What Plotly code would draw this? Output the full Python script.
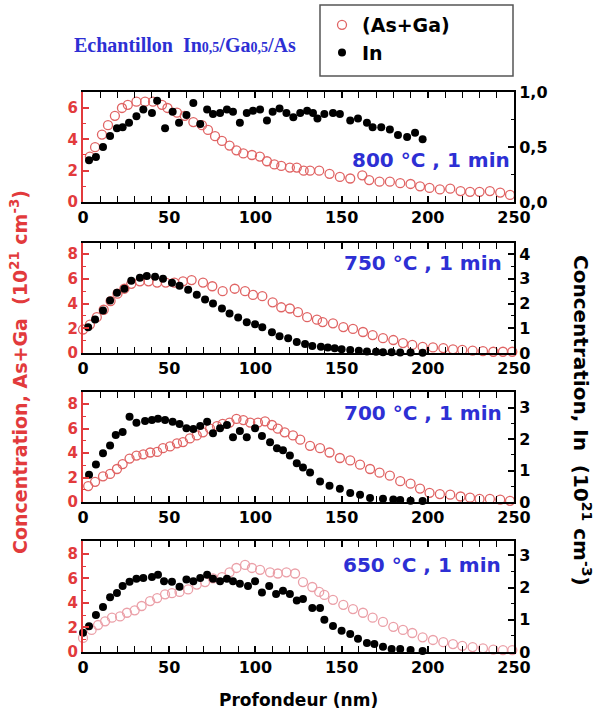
import plotly.graph_objects as go

# ---------------- data ----------------
# 800 °C
x_asga_800 = [-1.7, 4, 7, 11, 14.5, 18.5, 22.6, 26, 31, 36, 40.6, 45.8, 49, 54.5, 59, 64, 69, 72.5, 76.6, 80.6,
              85, 89, 93, 98, 102.6, 106.7, 111, 115, 120, 124, 128, 131.7, 137, 143, 149, 155, 162, 166, 172,
              178, 184, 190, 195.5, 201, 207, 213, 219, 224.5, 230, 236, 242, 247.7, 252]
asga_800 = [2.2, 2.9, 3.5, 4.3, 4.9, 5.5, 6.0, 6.2, 6.4, 6.4, 6.4, 6.2, 6.0, 5.7, 5.5, 5.1, 4.9, 4.6, 4.2, 3.9,
            3.6, 3.3, 3.1, 3.0, 2.9, 2.6, 2.4, 2.3, 2.2, 2.2, 2.0, 2.0, 2.0, 1.8, 1.6, 1.5, 1.7, 1.4, 1.3,
            1.3, 1.2, 1.15, 1.0, 0.9, 0.8, 0.85, 0.7, 0.65, 0.65, 0.7, 0.6, 0.45, 0.35]
x_in_800 = [-4.6, -0.6, 3.5, 7.5, 11.6, 15.7, 19.7, 23, 26.7, 31, 35, 40, 43, 47.6, 52, 55.7, 60, 64, 68, 72,
            75.4, 79.5, 83.5, 87, 91, 95, 98.6, 102.7, 106.7, 110, 114, 118, 122, 126, 130, 133.4, 136, 140,
            145, 149, 155, 159.5, 164.7, 168, 173, 178, 182.7, 188, 192.6, 197]
in_800 = [0.15, 0.31, 0.38, 0.41, 0.50, 0.60, 0.67, 0.68, 0.72, 0.78, 0.84, 0.81, 0.92, 0.67, 0.82, 0.72, 0.79,
          0.90, 0.71, 0.84, 0.80, 0.81, 0.84, 0.82, 0.72, 0.81, 0.83, 0.84, 0.74, 0.82, 0.85, 0.81, 0.77, 0.81,
          0.83, 0.81, 0.76, 0.80, 0.81, 0.80, 0.74, 0.76, 0.72, 0.68, 0.68, 0.66, 0.61, 0.59, 0.63, 0.57]

# 750 °C
x_asga_750 = [0, 4, 8, 12, 16, 20, 24, 28, 33, 38, 43, 48, 53, 58, 63, 69.6, 75, 81, 88, 94, 98.6, 104, 110,
              115, 120, 124.7, 130, 135.7, 139, 145, 151, 156.6, 162.4, 168, 174, 180, 185.6, 191, 197, 203,
              209, 214.6, 220, 226, 232, 238, 243.6, 249]
asga_750 = [1.9, 2.3, 2.9, 3.5, 4.2, 4.8, 5.2, 5.6, 5.8, 5.8, 5.7, 5.7, 5.7, 5.8, 5.9, 5.7, 5.4, 5.0, 5.2, 5.0,
            4.7, 4.6, 4.1, 3.7, 3.6, 3.3, 2.9, 2.7, 2.5, 2.4, 2.1, 1.95, 1.7, 1.45, 1.2, 1.05, 0.8, 0.65, 0.5,
            0.45, 0.4, 0.3, 0.25, 0.2, 0.15, 0.1, 0.1, 0.1]
x_in_750 = [-5.8, -0.6, 3, 7, 11.6, 15.7, 19.7, 24, 28, 33, 37, 41.8, 46.4, 51.6, 56, 61, 66, 70.8, 75.4, 80.6,
            85, 90, 95, 99.8, 104, 109.6, 114, 119, 124, 128.8, 133, 138, 142, 146, 150, 155, 160, 164.7, 170,
            174, 179, 184, 190, 197]
in_750 = [0.44, 0.84, 1.04, 1.36, 1.72, 2.12, 2.44, 2.6, 2.92, 3.04, 3.12, 3.08, 3.0, 2.84, 2.72, 2.56, 2.36,
          2.16, 2.0, 1.8, 1.6, 1.44, 1.24, 1.16, 1.04, 0.84, 0.68, 0.6, 0.44, 0.36, 0.28, 0.25, 0.22, 0.19,
          0.15, 0.12, 0.09, 0.06, 0.05, 0.03, 0.03, 0.02, 0.02, 0.01]

# 700 °C
x_asga_700 = [-0.6, 3, 7, 11.6, 15.7, 19.7, 23, 27, 31, 35, 39, 43, 46.4, 50.5, 54.5, 58, 62, 66, 69.6, 73.7,
              77.7, 81, 85, 89, 93, 97, 101.5, 105.6, 109.6, 113, 117, 121.8, 126, 131.7, 137.5, 143, 149,
              155, 160.7, 166.5, 172, 178, 184, 190, 195.5, 201, 207, 213, 219, 224.5, 230, 236, 242, 247.7, 252]
asga_700 = [1.5, 1.3, 1.65, 2.1, 2.3, 2.7, 3.1, 3.55, 3.8, 3.9, 4.05, 4.1, 4.4, 4.55, 4.8, 4.9, 5.2, 5.45, 5.7,
            6.0, 6.2, 6.4, 6.5, 6.8, 6.7, 6.5, 6.5, 6.6, 6.3, 6.0, 5.7, 5.45, 5.1, 4.6, 4.4, 4.05, 3.6, 3.4,
            3.05, 2.7, 2.4, 2.15, 1.7, 1.5, 1.1, 0.75, 0.65, 0.6, 0.45, 0.35, 0.25, 0.25, 0.2, 0.1, 0.1]
x_in_700 = [-5.8, -0.6, 3.5, 7.5, 11.6, 15.7, 19, 23, 27, 31, 36, 40, 43.5, 47.6, 52, 56, 60, 64, 68, 72, 75.4,
            79.5, 83.5, 87, 91, 95, 99.8, 103.8, 108.5, 112.5, 116, 120, 124, 127.6, 131.7, 137.5, 143, 149,
            155, 160.7, 166.5, 174, 180, 184, 190, 197]
in_700 = [0.32, 0.58, 0.87, 1.19, 1.55, 1.8, 2.13, 2.23, 2.71, 2.52, 2.58, 2.61, 2.65, 2.61, 2.55, 2.48, 2.35,
          2.32, 2.42, 2.55, 2.19, 2.35, 2.45, 2.06, 2.26, 2.06, 2.35, 2.1, 1.9, 1.71, 1.65, 1.48, 1.23, 1.1,
          0.94, 0.65, 0.52, 0.42, 0.29, 0.23, 0.13, 0.1, 0.08, 0.06, 0.04, 0.03]

# 650 °C
x_asga_650 = [0, 5, 8.7, 12.8, 16.8, 21.5, 25.5, 30, 34, 38.9, 43, 47.6, 51.6, 56, 61, 66, 70.8, 75.4, 80.6, 85,
              89, 94, 98, 102.7, 108.5, 113, 118, 123, 127.6, 133, 137, 140, 145, 151, 156.6, 162.4, 168, 174,
              180, 185.6, 191, 197, 203, 209, 214.6, 220, 226, 232, 238, 243.6, 249]
asga_650 = [1.15, 1.8, 2.2, 2.5, 2.8, 2.9, 3.2, 3.4, 3.75, 4.15, 4.4, 4.7, 4.8, 4.9, 5.1, 5.5, 5.7, 6.0, 6.1,
            6.5, 6.85, 7.1, 6.85, 6.7, 6.5, 6.4, 6.5, 6.4, 5.7, 5.3, 4.9, 4.65, 4.25, 3.85, 3.5, 3.2, 2.8,
            2.45, 2.05, 1.8, 1.55, 1.2, 0.98, 0.8, 0.65, 0.5, 0.4, 0.3, 0.2, 0.15, 0.15]
x_in_650 = [-4.6, 0, 3.5, 7.5, 11.6, 15.7, 19.7, 23, 27, 31, 35, 40, 43.5, 47, 51.6, 56, 60, 64, 68, 72, 75.4,
            79.5, 83.5, 87, 91, 95.7, 99.8, 103.8, 108, 112, 116, 120, 124, 127.6, 133, 137.5, 140, 145, 150,
            155, 159.5, 164.7, 169, 174, 179, 184, 190, 197]
in_650 = [0.41, 0.6, 0.8, 1.15, 1.4, 1.7, 1.83, 2.05, 2.18, 2.28, 2.3, 2.33, 2.4, 2.2, 2.18, 2.03, 2.25, 2.2,
          2.3, 2.4, 2.28, 2.2, 2.28, 2.2, 2.12, 2.05, 2.2, 1.85, 2.05, 1.8, 1.9, 1.8, 1.6, 1.65, 1.37, 1.37,
          1.0, 0.81, 0.66, 0.56, 0.41, 0.28, 0.25, 0.16, 0.09, 0.09, 0.06, 0.03]

panel_labels = ["800 °C , 1 min", "750 °C , 1 min", "700 °C , 1 min", "650 °C , 1 min"]
x_ticks = [0, 50, 100, 150, 200, 250]

# ---------------- styling ----------------
W, H = 601, 727
RED = "#e23a3c"
BLUE = "#2d2fd4"
SANS = "DejaVu Sans"

def px_x(p):
    return p / W

def px_y(p):
    return 1 - p / H

x_dom = [px_x(83), px_x(514)]
panels = [
    dict(top=92, bot=202, lrange=[0, 7.02], ldt=2, lminor=1, rrange=[0, 1.0], rdt=0.5, rminor=0.25,
         rfmt=".1f", label_x=512, label_y=160, asga=(x_asga_800, asga_800), inn=(x_in_800, in_800),
         rc="#e06464"),
    dict(top=243, bot=353, lrange=[0, 8.9], ldt=2, lminor=1, rrange=[0, 4.45], rdt=1, rminor=0.5,
         rfmt="", label_x=504, label_y=263, asga=(x_asga_750, asga_750), inn=(x_in_750, in_750),
         rc="#e06464"),
    dict(top=392, bot=502, lrange=[0, 9.0], ldt=2, lminor=1, rrange=[0, 3.5], rdt=1, rminor=0.5,
         rfmt="", label_x=504, label_y=413, asga=(x_asga_700, asga_700), inn=(x_in_700, in_700),
         rc="#e06464"),
    dict(top=541, bot=652, lrange=[0, 9.05], ldt=2, lminor=1, rrange=[0, 3.45], rdt=1, rminor=0.5,
         rfmt="", label_x=503, label_y=565, asga=(x_asga_650, asga_650), inn=(x_in_650, in_650),
         rc="#eba0a8"),
]

fig = go.Figure()
layout = dict(width=W, height=H, margin=dict(l=0, r=0, t=0, b=0, autoexpand=False), plot_bgcolor="white",
              paper_bgcolor="white", separators=", ", showlegend=True)
annotations = []

for i, p in enumerate(panels):
    k = i + 1
    xa = "x" if k == 1 else f"x{k}"
    yl = "y" if k == 1 else f"y{k}"
    yr = f"y{k + 4}"
    dom = [px_y(p["bot"]), px_y(p["top"])]

    layout["xaxis" if k == 1 else f"xaxis{k}"] = dict(
        domain=x_dom, range=[0, 250], anchor=yl, showline=True, linecolor="black", linewidth=2,
        mirror="allticks", ticks="inside", ticklen=6, tickwidth=1.5, tickcolor="black",
        tickvals=x_ticks, showgrid=False, zeroline=False, automargin=False,
        minor=dict(ticks="inside", dtick=10, ticklen=3, tickwidth=1.2, tickcolor="black"),
        tickfont=dict(family=SANS, size=16, color="black", weight="bold"))
    layout["yaxis" if k == 1 else f"yaxis{k}"] = dict(
        domain=dom, range=p["lrange"], anchor=xa, showline=True, linecolor=RED, linewidth=2,
        ticks="inside", ticklen=6, tickwidth=1.5, tickcolor=RED, dtick=p["ldt"], tick0=0,
        showgrid=False, zeroline=False, automargin=False,
        minor=dict(ticks="inside", dtick=p["lminor"], ticklen=3, tickwidth=1.2, tickcolor=RED),
        tickfont=dict(family=SANS, size=15, color=RED, weight="bold"))
    layout[f"yaxis{k + 4}"] = dict(
        overlaying=yl, side="right", anchor=xa, range=p["rrange"], showline=True, linecolor="black",
        linewidth=2, ticks="inside", ticklen=6, tickwidth=1.5, tickcolor="black", dtick=p["rdt"],
        tick0=0, tickformat=p["rfmt"], showgrid=False, zeroline=False, automargin=False,
        minor=dict(ticks="inside", dtick=p["rminor"], ticklen=3, tickwidth=1.2, tickcolor="black"),
        tickfont=dict(family=SANS, size=16, color="black", weight="bold"))

    fig.add_trace(go.Scatter(
        x=p["asga"][0], y=p["asga"][1], xaxis=xa, yaxis=yl, mode="markers", name="(As+Ga)",
        showlegend=(k == 1), cliponaxis=False,
        marker=dict(symbol="circle-open", size=9, line=dict(width=1.3, color=p["rc"]), color=p["rc"])))
    fig.add_trace(go.Scatter(
        x=p["inn"][0], y=p["inn"][1], xaxis=xa, yaxis=yr, mode="markers", name="In",
        showlegend=(k == 1), cliponaxis=False,
        marker=dict(symbol="circle", size=8, color="black")))

    annotations.append(dict(
        text=panel_labels[i], x=px_x(p["label_x"]), y=px_y(p["label_y"]), xref="paper", yref="paper",
        xanchor="right", yanchor="middle", showarrow=False,
        font=dict(family=SANS, size=20, color=BLUE, weight="bold")))

annotations += [
    dict(text="Concentration, As+Ga  (10<sup>21</sup> cm<sup>-3</sup>)", x=px_x(19), y=px_y(372),
         xref="paper", yref="paper", textangle=-90, showarrow=False, xanchor="center", yanchor="middle",
         font=dict(family=SANS, size=19, color=RED, weight="bold")),
    dict(text="Concentration, In  (10<sup>21</sup> cm<sup>-3</sup>)", x=px_x(582), y=px_y(420),
         xref="paper", yref="paper", textangle=90, showarrow=False, xanchor="center", yanchor="middle",
         font=dict(family=SANS, size=20, color="black", weight="bold")),
    dict(text="Profondeur (nm)", x=px_x(298), y=px_y(700), xref="paper", yref="paper", showarrow=False,
         xanchor="center", yanchor="middle", font=dict(family=SANS, size=17, color="black", weight="bold")),
    dict(text="Echantillon  In<span style='font-size:14px'>0,5</span>/Ga<span style='font-size:14px'>0,5</span>/As",
         x=px_x(72), y=px_y(45), xref="paper", yref="paper", showarrow=False, xanchor="left",
         yanchor="middle", font=dict(family="Liberation Serif", size=20, color=BLUE, weight="bold")),
]

layout["annotations"] = annotations
layout["shapes"] = [dict(type="rect", xref="paper", yref="paper", x0=px_x(320), x1=px_x(513),
                         y0=px_y(76), y1=px_y(5), line=dict(color="#555555", width=1.5))]
layout["legend"] = dict(x=px_x(322), y=px_y(6), xanchor="left", yanchor="top", bgcolor="rgba(0,0,0,0)",
                        borderwidth=0, font=dict(family=SANS, size=19, color="black", weight="bold"),
                        tracegroupgap=0, itemwidth=30)

fig.update_layout(**layout)
fig.write_html("out.html", config={"displayModeBar": False},
               post_script="document.body.style.margin='0px';document.body.style.padding='0px';"
                           "document.body.style.overflow='hidden';")
